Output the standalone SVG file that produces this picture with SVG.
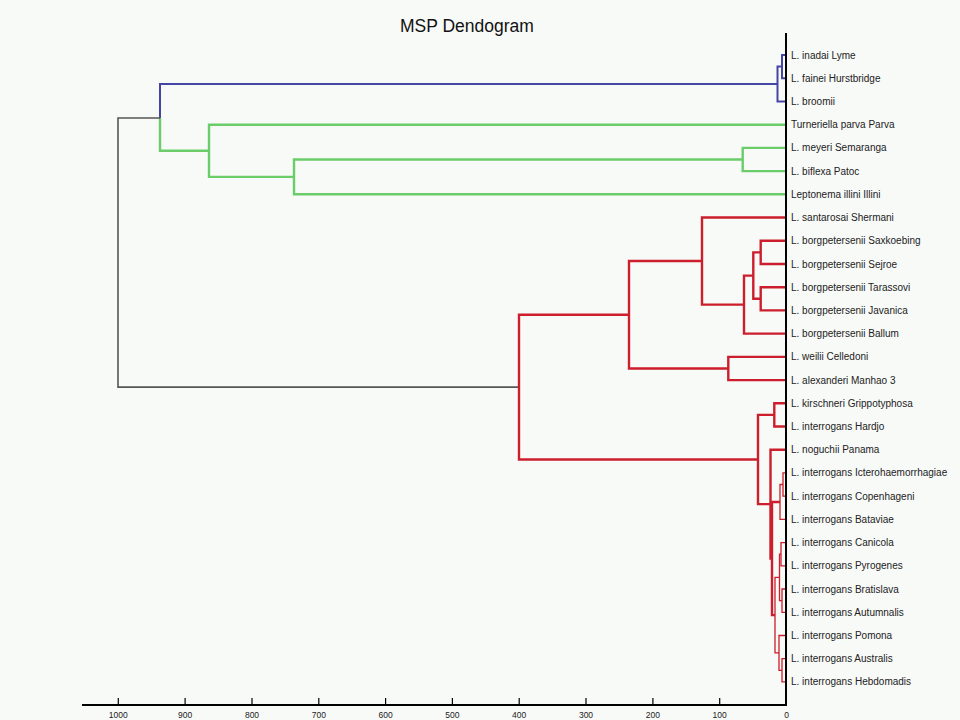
<svg xmlns="http://www.w3.org/2000/svg" width="960" height="720" viewBox="0 0 960 720">
<style>
.bg{fill:#f8faf8}
.title{font-family:"Liberation Sans",Arial,sans-serif;font-size:17.5px;fill:#111}
.lbl{font-family:"Liberation Sans",Arial,sans-serif;font-size:10px;fill:#222}
.tk{font-family:"Liberation Sans",Arial,sans-serif;font-size:8.5px;fill:#222;text-anchor:middle}
.ln{fill:none;stroke-linejoin:miter;stroke-linecap:butt}
.blue{stroke:#4545a5;stroke-width:2}
.green{stroke:#6acd6a;stroke-width:2.4}
.red{stroke:#cc1e2c;stroke-width:2.4}
.redt{stroke:#cc1e2c;stroke-width:1.3}
.root{stroke:#555;stroke-width:1.6}
.axis{stroke:#000;stroke-width:2;fill:none}
.tick{stroke:#000;stroke-width:1.2}
</style>
<rect class="bg" x="0" y="0" width="960" height="720"/>
<text class="title" x="400" y="32">MSP Dendogram</text>
<g id="connectors">
<path class="ln blue" d="M786 55H782V78.2H786"/>
<path class="ln blue" d="M782 66.6H777.5V101.4H786"/>
<path class="ln blue" d="M777.5 84H160V118"/>
<path class="ln green" d="M786 147.9H742.7V171.1H786"/>
<path class="ln green" d="M742.7 159.5H294V194.3H786"/>
<path class="ln green" d="M786 124.7H209V176.9H294"/>
<path class="ln green" d="M209 150.8H160V118"/>
<path class="ln root" d="M160 118H118V387.1H519"/>
<path class="ln red" d="M786 240.8H760.7V264H786"/>
<path class="ln red" d="M786 287.2H760.7V310.4H786"/>
<path class="ln red" d="M760.7 252.4H753.3V298.8H760.7"/>
<path class="ln red" d="M753.3 275.6H744V333.6H786"/>
<path class="ln red" d="M786 217.5H702V304.6H744"/>
<path class="ln red" d="M786 356.9H728.3V380.1H786"/>
<path class="ln red" d="M702 261H629V368.5H728.3"/>
<path class="ln red" d="M786 403.3H774.3V426.5H786"/>
<path class="ln redt" d="M786 472.9H783V496.2H786"/>
<path class="ln redt" d="M783 484.5H780V519.4H786"/>
<path class="ln redt" d="M786 542.6H781V565.8H786"/>
<path class="ln redt" d="M786 589H782V612.3H786"/>
<path class="ln redt" d="M781 554.2H779.5V600.6H782"/>
<path class="ln redt" d="M786 658.7H782V681.9H786"/>
<path class="ln redt" d="M786 635.5H779V670.3H782"/>
<path class="ln redt" d="M779.5 577.4H775V652.9H779"/>
<path class="ln red" d="M780 502H772V615.1H775"/>
<path class="ln red" d="M786 449.7H770.5V558.6H772"/>
<path class="ln red" d="M774.3 414.9H758V504.1H770.5"/>
<path class="ln red" d="M629 314.8H519V459.5H758"/>
</g>
<g id="axis">
<path class="axis" d="M786 33V705H82"/>
<g class="tick">
<line x1="719.7" y1="698" x2="719.7" y2="705"/>
<line x1="652.9" y1="698" x2="652.9" y2="705"/>
<line x1="586" y1="698" x2="586" y2="705"/>
<line x1="519.2" y1="698" x2="519.2" y2="705"/>
<line x1="452.4" y1="698" x2="452.4" y2="705"/>
<line x1="385.6" y1="698" x2="385.6" y2="705"/>
<line x1="318.8" y1="698" x2="318.8" y2="705"/>
<line x1="252" y1="698" x2="252" y2="705"/>
<line x1="185.1" y1="698" x2="185.1" y2="705"/>
<line x1="118.3" y1="698" x2="118.3" y2="705"/>
</g>
<text class="tk" x="786.5" y="718">0</text>
<text class="tk" x="719.7" y="718">100</text>
<text class="tk" x="652.9" y="718">200</text>
<text class="tk" x="586" y="718">300</text>
<text class="tk" x="519.2" y="718">400</text>
<text class="tk" x="452.4" y="718">500</text>
<text class="tk" x="385.6" y="718">600</text>
<text class="tk" x="318.8" y="718">700</text>
<text class="tk" x="252" y="718">800</text>
<text class="tk" x="185.1" y="718">900</text>
<text class="tk" x="118.3" y="718">1000</text>
</g>
<g id="n0"><text class="lbl" x="791" y="58.5">L. inadai Lyme</text></g>
<g id="n1"><text class="lbl" x="791" y="81.7">L. fainei Hurstbridge</text></g>
<g id="n2"><text class="lbl" x="791" y="104.9">L. broomii</text></g>
<g id="n3"><text class="lbl" x="791" y="128.2">Turneriella parva Parva</text></g>
<g id="n4"><text class="lbl" x="791" y="151.4">L. meyeri Semaranga</text></g>
<g id="n5"><text class="lbl" x="791" y="174.6">L. biflexa Patoc</text></g>
<g id="n6"><text class="lbl" x="791" y="197.8">Leptonema illini Illini</text></g>
<g id="n7"><text class="lbl" x="791" y="221">L. santarosai Shermani</text></g>
<g id="n8"><text class="lbl" x="791" y="244.3">L. borgpetersenii Saxkoebing</text></g>
<g id="n9"><text class="lbl" x="791" y="267.5">L. borgpetersenii Sejroe</text></g>
<g id="n10"><text class="lbl" x="791" y="290.7">L. borgpetersenii Tarassovi</text></g>
<g id="n11"><text class="lbl" x="791" y="313.9">L. borgpetersenii Javanica</text></g>
<g id="n12"><text class="lbl" x="791" y="337.1">L. borgpetersenii Ballum</text></g>
<g id="n13"><text class="lbl" x="791" y="360.4">L. weilii Celledoni</text></g>
<g id="n14"><text class="lbl" x="791" y="383.6">L. alexanderi Manhao 3</text></g>
<g id="n15"><text class="lbl" x="791" y="406.8">L. kirschneri Grippotyphosa</text></g>
<g id="n16"><text class="lbl" x="791" y="430">L. interrogans Hardjo</text></g>
<g id="n17"><text class="lbl" x="791" y="453.2">L. noguchii Panama</text></g>
<g id="n18"><text class="lbl" x="791" y="476.4">L. interrogans Icterohaemorrhagiae</text></g>
<g id="n19"><text class="lbl" x="791" y="499.7">L. interrogans Copenhageni</text></g>
<g id="n20"><text class="lbl" x="791" y="522.9">L. interrogans Bataviae</text></g>
<g id="n21"><text class="lbl" x="791" y="546.1">L. interrogans Canicola</text></g>
<g id="n22"><text class="lbl" x="791" y="569.3">L. interrogans Pyrogenes</text></g>
<g id="n23"><text class="lbl" x="791" y="592.5">L. interrogans Bratislava</text></g>
<g id="n24"><text class="lbl" x="791" y="615.8">L. interrogans Autumnalis</text></g>
<g id="n25"><text class="lbl" x="791" y="639">L. interrogans Pomona</text></g>
<g id="n26"><text class="lbl" x="791" y="662.2">L. interrogans Australis</text></g>
<g id="n27"><text class="lbl" x="791" y="685.4">L. interrogans Hebdomadis</text></g>
</svg>
